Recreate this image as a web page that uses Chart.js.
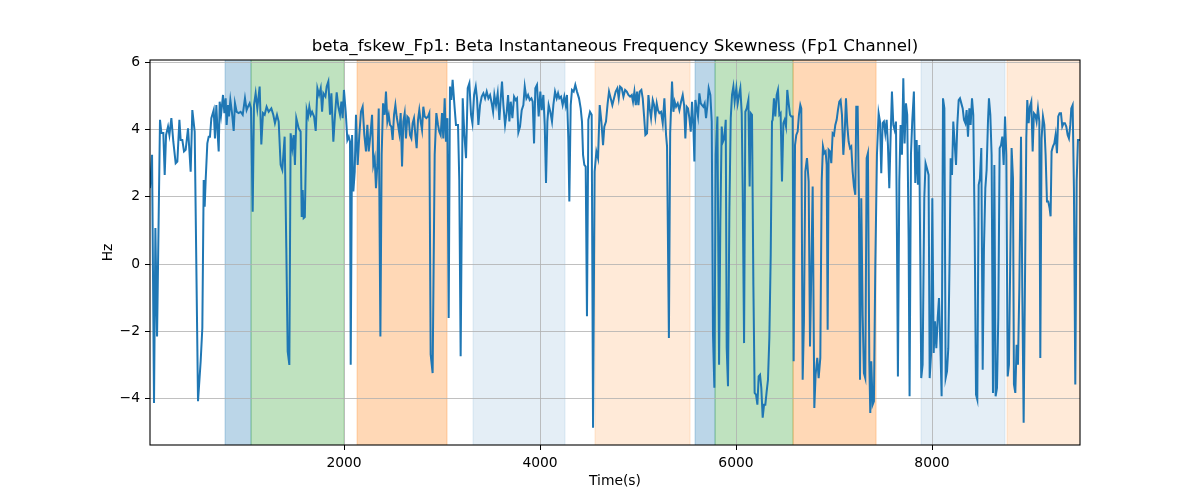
<!DOCTYPE html>
<html><head><meta charset="utf-8">
<script src="https://cdn.jsdelivr.net/npm/chart.js@4.4.1/dist/chart.umd.min.js"></script>
<style>html,body{margin:0;padding:0;background:#fff;} #wrap{width:1200px;height:500px;}</style>
</head><body><div id="wrap"><canvas id="c" width="1200" height="500"></canvas></div>
<script>
const timeSec = [
20,41,61,75,92,122,136,156,170,184,
204,218,238,258,282,299,320,333,350,367,
384,408,435,452,476,510,537,554,568,578,
588,605,619,632,646,670,683,697,711,721,
731,745,765,779,792,802,816,826,840,857,
874,887,904,925,945,966,989,1006,1020,1037,
1051,1068,1081,1098,1115,1139,1156,1173,1190,1210,
1231,1258,1278,1295,1316,1333,1353,1370,1394,1411,
1425,1442,1455,1472,1486,1499,1513,1537,1557,1568,
1578,1588,1600,1619,1633,1646,1660,1674,1694,1711,
1728,1745,1762,1776,1789,1810,1823,1840,1857,1871,
1891,1908,1925,1942,1959,1973,1986,1999,2017,2034,
2048,2061,2068,2082,2095,2109,2122,2139,2156,2173,
2190,2207,2224,2238,2252,2269,2286,2299,2313,2326,
2340,2354,2371,2384,2398,2415,2428,2442,2456,2469,
2483,2496,2510,2524,2537,2551,2564,2578,2592,2605,
2619,2632,2646,2660,2673,2687,2700,2714,2728,2741,
2755,2768,2782,2796,2809,2823,2840,2857,2870,2884,
2904,2925,2942,2959,2972,2986,3000,3013,3027,3040,
3054,3068,3081,3095,3108,3129,3142,3163,3176,3190,
3211,3228,3245,3262,3279,3296,3310,3327,3344,3357,
3371,3388,3405,3422,3439,3456,3473,3490,3507,3521,
3534,3551,3568,3585,3599,3612,3626,3643,3660,3674,
3687,3701,3718,3735,3752,3765,3779,3796,3813,3830,
3844,3861,3878,3895,3912,3925,3939,3952,3969,3986,
4003,4017,4034,4048,4061,4075,4088,4105,4122,4136,
4153,4170,4184,4197,4214,4231,4248,4262,4275,4289,
4299,4313,4326,4343,4360,4377,4398,4415,4428,4439,
4452,4466,4479,4493,4510,4527,4541,4557,4575,4592,
4609,4626,4643,4656,4673,4690,4704,4721,4738,4755,
4772,4789,4803,4817,4834,4851,4868,4885,4902,4919,
4936,4949,4963,4977,4990,5004,5017,5034,5048,5062,
5075,5092,5106,5119,5133,5150,5164,5177,5191,5204,
5218,5235,5252,5269,5286,5296,5315,5328,5347,5361,
5374,5388,5405,5422,5439,5456,5470,5483,5497,5510,
5524,5538,5551,5565,5575,5585,5599,5612,5626,5640,
5653,5667,5680,5694,5708,5721,5738,5752,5765,5779,
5793,5810,5827,5840,5854,5867,5881,5895,5905,5918,
5932,5946,5959,5973,5986,6003,6017,6031,6044,6058,
6068,6082,6095,6109,6126,6139,6150,6163,6177,6190,
6204,6218,6231,6245,6258,6272,6286,6299,6313,6326,
6340,6354,6367,6374,6387,6401,6415,6428,6442,6455,
6469,6483,6496,6510,6523,6537,6551,6564,6578,6588,
6602,6615,6629,6642,6656,6666,6680,6693,6707,6724,
6741,6755,6768,6782,6799,6812,6829,6843,6860,6874,
6887,6901,6914,6925,6935,6945,6959,6972,6986,7000,
7013,7027,7040,7054,7067,7081,7095,7108,7122,7135,
7149,7163,7176,7190,7203,7217,7227,7241,7254,7265,
7278,7292,7305,7319,7333,7346,7360,7370,7380,7394,
7407,7421,7438,7455,7469,7482,7496,7509,7523,7537,
7550,7564,7577,7591,7605,7618,7632,7642,7652,7666,
7679,7693,7707,7720,7734,7747,7761,7771,7785,7798,
7815,7829,7843,7856,7870,7880,7890,7904,7921,7934,
7948,7965,7976,7990,8003,8017,8030,8044,8058,8071,
8085,8098,8112,8126,8139,8153,8166,8180,8190,8204,
8217,8231,8245,8258,8272,8285,8299,8313,8326,8340,
8353,8367,8381,8394,8408,8421,8435,8449,8462,8476,
8489,8503,8517,8530,8544,8557,8571,8581,8595,8608,
8622,8636,8649,8663,8676,8690,8704,8717,8731,8745,
8758,8772,8785,8799,8812,8826,8836,8850,8863,8877,
8891,8908,8921,8935,8948,8962,8972,8986,8999,9013,
9027,9040,9054,9067,9081,9095,9105,9118,9132,9146,
9159,9173,9186,9200,9210,9220,9234,9248,9261,9275,
9288,9302,9316,9329,9343,9356,9370,9384,9397,9411,
9421,9435,9448,9462,9476,9489,9510
];
const skewHz = [
2.26,3.25,-4.13,1.07,-2.15,4.29,3.9,3.9,2.65,3.84,
4.09,3.84,4.34,3.64,3.0,3.05,4.29,3.69,3.69,3.35,
3.4,4.04,2.75,4.58,3.94,-4.08,-2.89,-1.9,2.5,1.71,
2.5,3.59,3.79,3.79,4.34,4.58,3.74,4.73,3.84,3.35,
4.83,4.44,5.03,4.49,4.93,4.14,4.73,4.39,4.88,4.49,
3.96,4.78,4.53,4.49,4.53,4.44,4.93,4.58,4.68,4.78,
4.63,1.56,4.73,5.08,4.63,5.28,3.56,4.49,4.44,4.68,
4.53,4.63,4.44,4.19,4.44,4.24,2.95,2.8,3.79,0.48,
-2.6,-3.0,3.89,3.45,3.84,2.95,4.34,4.04,3.94,1.4,
2.2,1.37,1.4,4.58,4.39,4.68,4.44,4.53,4.39,3.96,
5.23,5.03,5.23,4.53,5.08,4.98,5.28,5.43,4.44,5.08,
3.64,4.44,5.11,4.68,4.44,4.83,4.34,5.18,4.53,3.69,
3.79,3.64,-2.99,3.84,2.16,2.75,4.44,2.95,3.84,4.53,
4.68,3.84,3.35,4.14,3.35,3.84,4.44,2.95,3.15,2.26,
2.95,4.63,-2.15,3.25,4.78,4.44,5.13,4.24,4.44,4.14,
4.09,3.69,4.44,4.73,4.39,4.14,3.89,4.49,2.9,4.24,
4.49,3.74,4.39,4.34,3.84,3.74,4.19,4.34,3.84,3.45,
4.29,4.58,4.24,3.99,4.68,4.39,4.34,4.39,4.49,-2.69,
-3.24,3.25,4.49,4.14,3.94,3.84,4.49,3.74,4.93,3.64,
4.34,-1.6,5.28,4.88,5.48,4.63,4.14,4.14,2.5,-2.74,
4.93,3.84,3.15,5.23,5.38,4.44,4.19,5.03,5.28,4.93,
4.14,4.73,4.98,5.08,4.93,5.13,4.93,5.03,4.78,4.53,
5.03,4.73,5.08,4.29,4.93,5.43,4.73,4.14,4.53,5.03,
4.24,4.83,4.34,4.98,4.88,4.93,3.92,4.09,4.58,4.73,
5.28,4.93,5.03,4.88,4.93,4.83,3.59,5.23,5.33,4.39,
5.13,4.58,5.03,4.14,2.41,4.24,4.73,4.53,4.24,4.73,
5.13,4.93,5.08,4.93,4.98,4.73,4.98,4.73,5.03,3.69,
1.86,4.73,5.18,5.13,5.33,5.13,4.93,4.63,4.24,3.25,
2.95,2.9,-1.55,4.29,4.53,4.44,-4.87,2.75,3.35,3.15,
4.73,4.24,3.54,4.09,4.24,4.78,5.13,4.93,4.73,4.93,
5.13,5.23,4.93,5.28,5.23,4.98,5.18,5.13,5.03,4.98,
5.03,4.83,5.13,4.73,5.13,4.73,5.13,5.18,4.93,4.39,
3.84,3.89,5.03,4.63,4.34,4.88,4.73,4.39,4.78,4.58,
4.49,4.53,4.19,4.93,3.84,3.5,-2.2,3.9,5.43,4.53,
4.83,4.68,4.78,4.58,4.83,5.03,4.73,3.74,4.68,4.63,
4.34,3.94,4.83,4.09,3.05,4.88,4.63,4.39,5.08,4.78,
4.73,4.68,4.78,4.34,4.73,5.23,5.03,4.24,-2.1,-3.68,
3.25,4.39,-2.99,1.27,4.09,3.64,3.74,4.29,-2.5,-3.63,
1.56,4.34,5.03,5.28,4.83,5.23,4.78,5.03,5.23,4.49,
2.21,-2.35,4.53,4.63,4.88,2.31,4.49,4.44,-0.61,-3.83,
-3.88,-4.18,-3.34,-3.29,-3.68,-4.57,-4.18,-4.18,-3.78,-3.44,
-2.2,0.28,4.24,4.29,4.93,4.39,5.03,5.18,4.44,4.49,
2.46,4.19,4.29,4.09,5.18,4.78,4.44,4.39,4.39,-2.89,
3.54,3.84,3.94,4.44,4.73,4.63,-3.44,-1.7,2.75,3.15,
2.46,-2.45,-0.22,2.31,-4.28,-3.29,-2.79,-3.39,-2.79,2.46,
3.5,3.3,3.35,2.95,-1.95,3.4,3.35,3.0,3.89,3.84,
4.14,4.29,4.58,4.83,4.88,4.44,3.25,3.84,4.93,4.14,
3.64,3.45,3.5,2.75,2.31,2.06,4.68,4.68,1.96,-3.44,
1.96,-1.5,-3.24,-3.39,3.15,3.3,-2.89,-4.43,-2.89,-4.18,
-4.08,-0.12,3.25,4.49,4.24,2.7,4.19,4.24,3.89,4.29,
3.54,2.26,3.74,5.13,4.14,3.99,4.24,0.87,-3.34,2.46,
4.14,3.25,5.53,3.59,4.78,4.44,0.77,-3.93,3.25,4.24,
5.13,2.41,3.69,2.36,3.54,0.28,-3.39,-2.99,1.96,3.0,
2.85,2.65,-3.39,-2.69,1.96,-2.64,-1.7,-2.5,-1.6,-1.01,
-2.4,-3.93,4.93,4.63,-3.39,-3.19,-2.5,0.28,3.15,2.65,
4.24,3.59,2.95,4.14,4.88,4.93,4.78,4.63,4.29,4.19,
4.58,3.79,4.63,4.14,4.93,4.44,1.07,-3.88,-4.03,2.36,
2.55,3.45,-3.14,0.48,2.26,2.8,4.24,4.93,4.44,3.25,
-3.83,2.95,-3.93,-3.68,-1.6,3.45,3.54,3.79,2.95,4.39,
3.25,-3.34,-2.99,0.28,3.45,2.55,-3.58,-3.83,-2.4,-2.99,
-0.71,3.79,-0.71,-4.72,-0.71,3.74,4.88,4.19,4.68,4.83,
3.35,4.49,4.44,4.24,4.63,4.24,-2.79,3.74,4.39,4.14,
3.25,1.86,1.86,1.66,1.42,3.35,3.5,3.59,3.84,3.3,
4.39,4.49,4.49,4.09,4.19,4.19,4.09,3.84,3.74,4.14,
4.63,4.73,2.26,-3.58,2.46,3.69,3.69
];
if (timeSec.length !== skewHz.length) throw new Error('length mismatch ' + timeSec.length + ' vs ' + skewHz.length);

// shaded state intervals (seconds)
const bandStart = [786, 1051, 2133, 3316, 4561, 5582, 5786, 6582, 7888, 8765];
const bandEnd   = [1051, 2000, 3051, 4255, 5531, 5786, 6582, 7429, 8745, 9600];
const bandKind  = ['blue','green','orange','blueLight','orangeLight','blue','green','orange','blueLight','orangeLight'];

const xTicks = [2000, 4000, 6000, 8000];
const yTicks = [-4, -2, 0, 2, 4, 6];

const bandFill = {
  blue: 'rgba(31,119,180,0.3)',
  green: 'rgba(44,160,44,0.3)',
  orange: 'rgba(255,127,14,0.3)',
  blueLight: 'rgba(31,119,180,0.12)',
  orangeLight: 'rgba(255,127,14,0.16)'
};

const bandPlugin = {
  id: 'bands',
  beforeDraw(chart) {
    const {ctx, chartArea: a, scales: {x}} = chart;
    ctx.save();
    ctx.beginPath();
    ctx.rect(a.left, a.top, a.right - a.left, a.bottom - a.top);
    ctx.clip();
    bandStart.forEach((s, i) => {
      const x0 = x.getPixelForValue(s), x1 = x.getPixelForValue(bandEnd[i]);
      ctx.fillStyle = bandFill[bandKind[i]];
      ctx.fillRect(x0, a.top, x1 - x0, a.bottom - a.top);
      ctx.strokeStyle = bandFill[bandKind[i]];
      ctx.lineWidth = 1;
      ctx.strokeRect(x0, a.top - 2, x1 - x0, a.bottom - a.top + 4);
    });
    ctx.restore();
  }
};

const framePlugin = {
  id: 'frame',
  afterDatasetsDraw(chart) {
    const {ctx, chartArea: a} = chart;
    ctx.save();
    ctx.strokeStyle = '#000';
    ctx.lineWidth = 1.1;
    ctx.strokeRect(a.left, a.top, a.right - a.left, a.bottom - a.top);
    ctx.restore();
  }
};

const FONT = 'DejaVu Sans';
const tickFont = {family: FONT, size: 13.89};
const minusFmt = v => (v < 0 ? '\u2212' + Math.abs(v) : String(v));

new Chart(document.getElementById('c').getContext('2d'), {
  type: 'line',
  data: {
    datasets: [{
      data: timeSec.map((t, i) => ({x: t, y: skewHz[i]})),
      borderColor: '#1f77b4',
      borderWidth: 2,
      pointRadius: 0,
      tension: 0,
      fill: false
    }]
  },
  options: {
    responsive: false,
    animation: false,
    devicePixelRatio: 1,
    layout: {padding: {left: 0, right: 120, top: 0, bottom: 0}},
    plugins: {
      legend: {display: false},
      tooltip: {enabled: false},
      title: {
        display: true,
        fullSize: false,
        text: 'beta_fskew_Fp1: Beta Instantaneous Frequency Skewness (Fp1 Channel)',
        color: '#000',
        font: {family: FONT, size: 16.67, weight: 'normal'},
        padding: {top: 37, bottom: 3}
      }
    },
    scales: {
      x: {
        type: 'linear',
        min: 20, max: 9510,
        afterBuildTicks: s => { s.ticks = xTicks.map(v => ({value: v})); },
        afterFit: s => { s.height = 55; },
        grid: {color: '#b0b0b0', lineWidth: 0.8, tickLength: 5, tickColor: '#000', tickWidth: 1},
        border: {display: false},
        ticks: {color: '#000', font: tickFont, padding: 5, maxRotation: 0, autoSkip: false, callback: v => String(v)},
        title: {display: true, text: 'Time(s)', color: '#000', font: tickFont, padding: {top: 10, bottom: 10}}
      },
      y: {
        type: 'linear',
        min: -5.38, max: 6.07,
        afterBuildTicks: s => { s.ticks = yTicks.map(v => ({value: v})); },
        afterFit: s => { s.width = 150; },
        grid: {color: '#b0b0b0', lineWidth: 0.8, tickLength: 5, tickColor: '#000', tickWidth: 1},
        border: {display: false},
        ticks: {color: '#000', font: tickFont, padding: 5, autoSkip: false, callback: minusFmt},
        title: {display: true, text: 'Hz', color: '#000', font: tickFont, padding: {top: 100, bottom: 100}}
      }
    }
  },
  plugins: [bandPlugin, framePlugin]
});
</script>
</body></html>
